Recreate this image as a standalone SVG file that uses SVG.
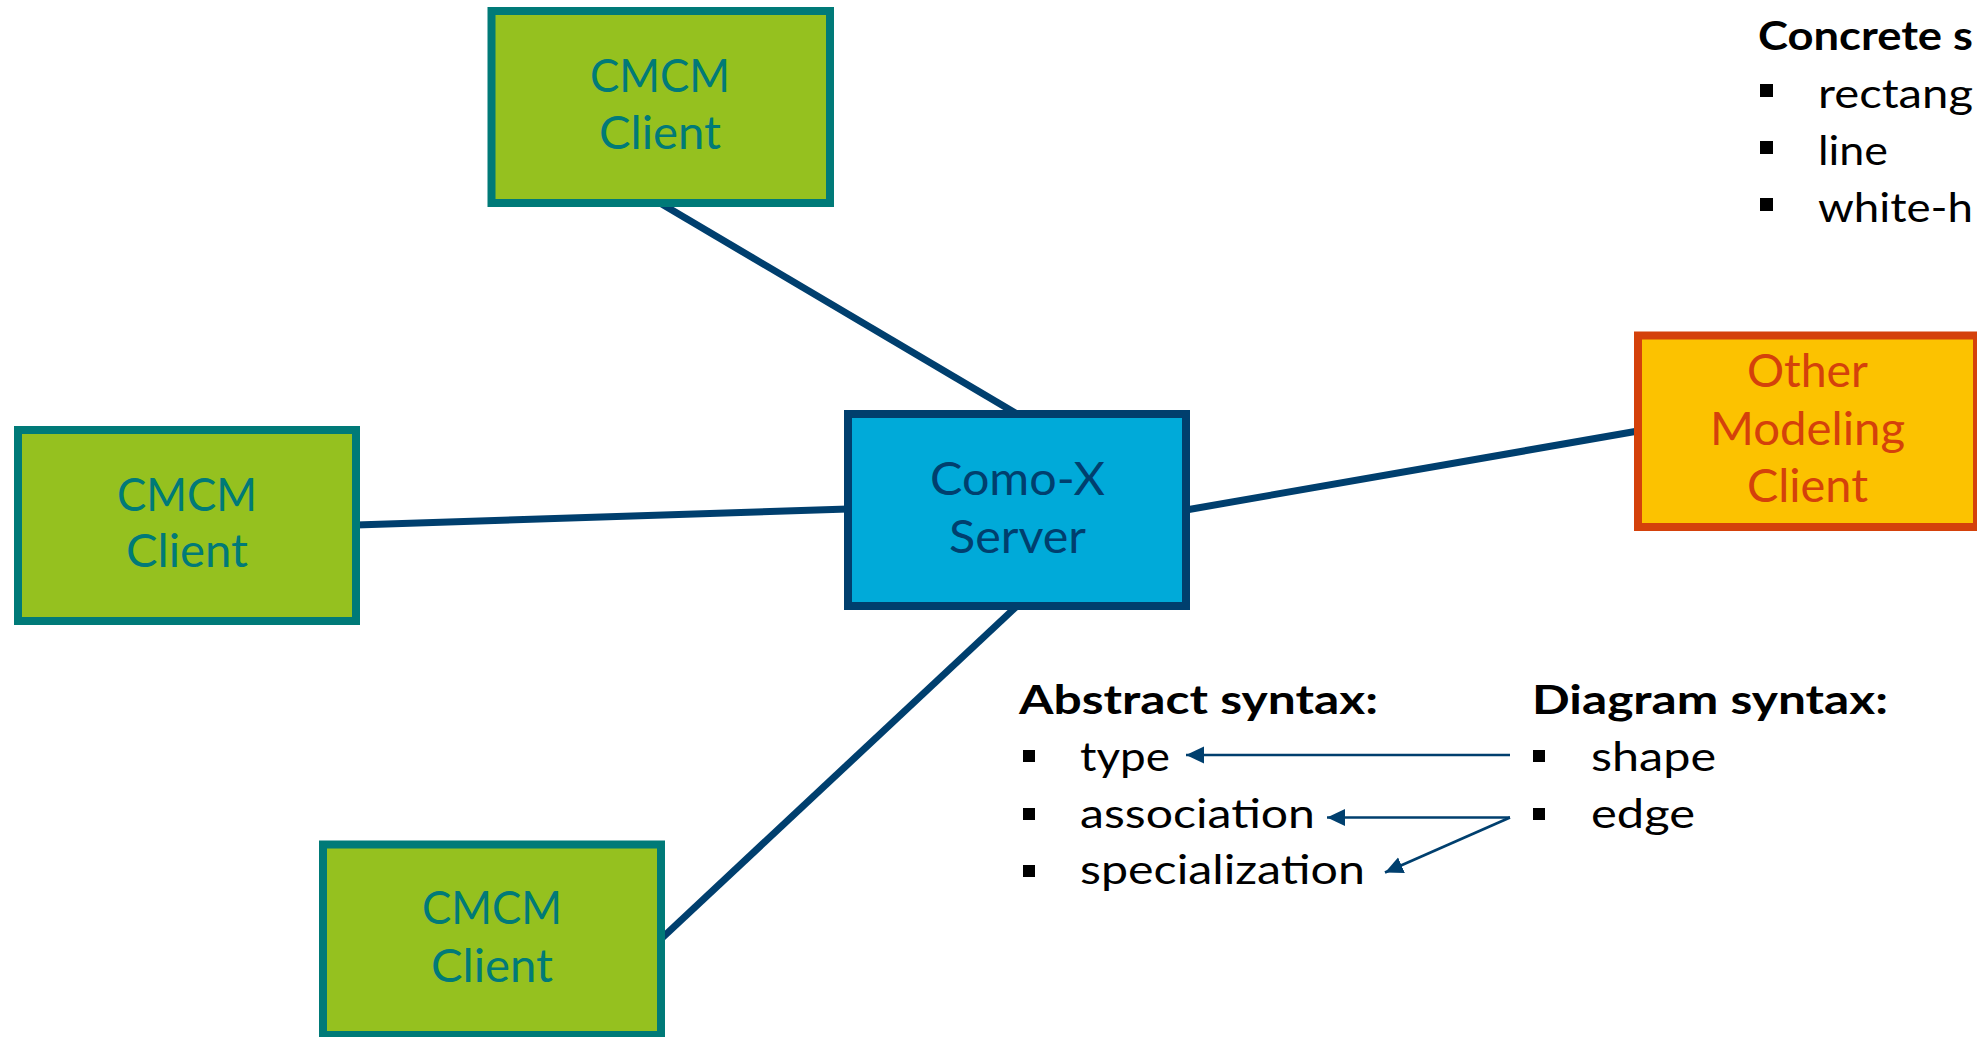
<svg xmlns="http://www.w3.org/2000/svg" width="1977" height="1037" viewBox="0 0 1977 1037">
<defs>
<style>
.green rect{fill:#95C11F;stroke:#007A78;stroke-width:8}
.green text{fill:#007A78}
.nt{font-family:Lato,"Noto Sans",sans-serif;font-size:47px;text-anchor:middle}
.conn line{stroke:#003F6E;stroke-width:7;stroke-linecap:butt}
.arr line{stroke:#003F6E;stroke-width:2.7;fill:none}
.hd{font-family:Lato,"Noto Sans",sans-serif;font-size:41px;font-weight:bold;fill:#000}
.it{font-family:Lato,"Noto Sans",sans-serif;font-size:41px;fill:#000}
.bul{fill:#000}
</style>
<marker id="ah" markerUnits="userSpaceOnUse" markerWidth="18" markerHeight="18" viewBox="0 -8 16 16" refX="16" refY="0" orient="auto">
<path d="M0,-7.5 L16,0 L0,7.5 Z" fill="#003F6E"/>
</marker>
</defs>
<rect width="1977" height="1037" fill="#FFFFFF"/>

<g id="connectors" class="conn">
<line x1="660" y1="203" x2="1017" y2="414"/>
<line x1="356" y1="525" x2="848" y2="509"/>
<line x1="1186" y1="510" x2="1638" y2="431"/>
<line x1="1017" y1="606" x2="661" y2="939"/>
</g>

<g id="node-cmcm-top" class="green">
<rect x="491.5" y="11" width="338.5" height="192"/>
<text class="nt" x="660" y="91.5" textLength="140" lengthAdjust="spacingAndGlyphs">CMCM</text>
<text class="nt" x="660" y="148.5" textLength="122" lengthAdjust="spacingAndGlyphs">Client</text>
</g>

<g id="node-cmcm-left" class="green">
<rect x="18" y="430" width="338" height="191"/>
<text class="nt" x="187" y="510.5" textLength="140" lengthAdjust="spacingAndGlyphs">CMCM</text>
<text class="nt" x="187" y="566.5" textLength="122" lengthAdjust="spacingAndGlyphs">Client</text>
</g>

<g id="node-cmcm-bottom" class="green">
<rect x="323" y="844.5" width="338" height="190.5"/>
<text class="nt" x="492" y="924" textLength="140" lengthAdjust="spacingAndGlyphs">CMCM</text>
<text class="nt" x="492" y="982" textLength="122" lengthAdjust="spacingAndGlyphs">Client</text>
</g>

<g id="node-server">
<rect x="848" y="414" width="338" height="192" fill="#00AAD9" stroke="#003F6E" stroke-width="8"/>
<text class="nt" x="1017.5" y="495" fill="#003F6E" textLength="175" lengthAdjust="spacingAndGlyphs">Como-X</text>
<text class="nt" x="1017.5" y="553" fill="#003F6E" textLength="137" lengthAdjust="spacingAndGlyphs">Server</text>
</g>

<g id="node-other">
<rect x="1638" y="335.5" width="339" height="191.5" fill="#FCC200" stroke="#D4410B" stroke-width="8"/>
<text class="nt" x="1807.5" y="386.5" fill="#D4410B" textLength="121" lengthAdjust="spacingAndGlyphs">Other</text>
<text class="nt" x="1807.5" y="445" fill="#D4410B" textLength="195" lengthAdjust="spacingAndGlyphs">Modeling</text>
<text class="nt" x="1807.5" y="501.5" fill="#D4410B" textLength="121" lengthAdjust="spacingAndGlyphs">Client</text>
</g>

<g id="concrete-syntax">
<text class="hd" x="1758" y="50" font-size="44" textLength="215" lengthAdjust="spacingAndGlyphs">Concrete s</text>
<rect class="bul" x="1760" y="84" width="13" height="13"/>
<text class="it" x="1818" y="108" font-size="44" textLength="155" lengthAdjust="spacingAndGlyphs">rectang</text>
<rect class="bul" x="1760" y="141" width="13" height="13"/>
<text class="it" x="1818" y="165" font-size="44" textLength="70" lengthAdjust="spacingAndGlyphs">line</text>
<rect class="bul" x="1760" y="198" width="13" height="13"/>
<text class="it" x="1818" y="221.5" font-size="44" textLength="155" lengthAdjust="spacingAndGlyphs">white-h</text>
</g>

<g id="abstract-syntax">
<text class="hd" x="1019" y="714" textLength="359" lengthAdjust="spacingAndGlyphs">Abstract syntax:</text>
<rect class="bul" x="1023" y="750" width="12" height="12"/>
<text class="it" x="1080" y="771" textLength="90" lengthAdjust="spacingAndGlyphs">type</text>
<rect class="bul" x="1023" y="808" width="12" height="12"/>
<text class="it" x="1080" y="828" textLength="235" lengthAdjust="spacingAndGlyphs">association</text>
<rect class="bul" x="1023" y="865" width="12" height="12"/>
<text class="it" x="1080" y="884" textLength="285" lengthAdjust="spacingAndGlyphs">specialization</text>
</g>

<g id="diagram-syntax">
<text class="hd" x="1532" y="714" textLength="356" lengthAdjust="spacingAndGlyphs">Diagram syntax:</text>
<rect class="bul" x="1533" y="750" width="12" height="12"/>
<text class="it" x="1591" y="771" textLength="125" lengthAdjust="spacingAndGlyphs">shape</text>
<rect class="bul" x="1533" y="808" width="12" height="12"/>
<text class="it" x="1591" y="828" textLength="104" lengthAdjust="spacingAndGlyphs">edge</text>
</g>

<g id="mapping-arrows" class="arr">
<line x1="1510" y1="755" x2="1186" y2="755" marker-end="url(#ah)"/>
<line x1="1510" y1="817.5" x2="1327" y2="817.5" marker-end="url(#ah)"/>
<line x1="1510" y1="817.5" x2="1385" y2="872.5" marker-end="url(#ah)"/>
</g>
</svg>
